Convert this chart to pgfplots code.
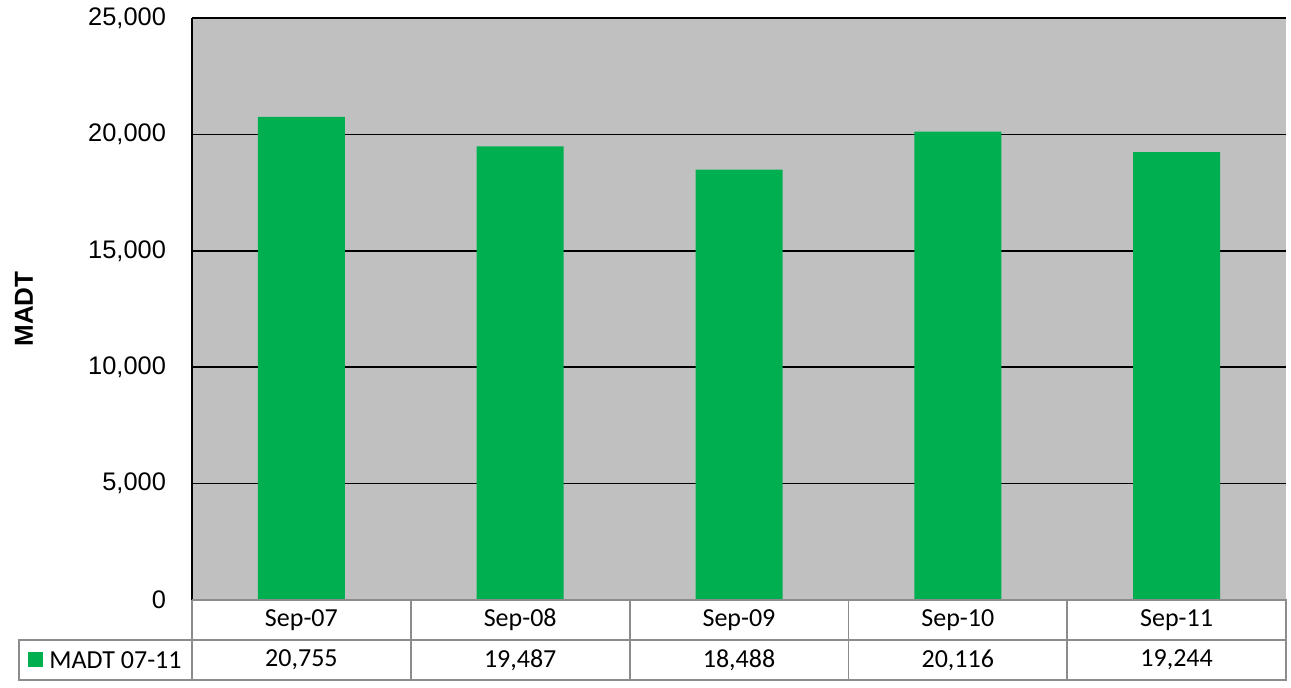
\documentclass[border=0pt]{standalone}
\usepackage{pgfplots}
\pgfplotsset{compat=1.18}
\usepackage{fontspec}
\setmainfont{Liberation Sans}
\newfontfamily\calibri{Carlito}
\definecolor{bargreen}{HTML}{00B050}
\definecolor{plotgray}{HTML}{C0C0C0}
\definecolor{tblgray}{HTML}{8C8C8C}
\pgfplotstableread{
x cat value
0 Sep-07 20755
1 Sep-08 19487
2 Sep-09 18488
3 Sep-10 20116
4 Sep-11 19244
}\datatable
\begin{document}
\begin{tikzpicture}[x=1pt,y=1pt]
\useasboundingbox (0,0) rectangle (645.5,343.5);
\begin{axis}[
  at={(96pt,43.5pt)}, anchor=south west,
  scale only axis, width=547pt, height=291pt,
  xmin=-0.5, xmax=4.5, ymin=0, ymax=25000,
  axis x line=none, axis y line*=left,
  y axis line style={black, line width=0.9pt, -},
  axis background/.style={fill=plotgray},
  ytick={0,5000,10000,15000,20000,25000},
  ymajorgrids, grid style={black, line width=0.8pt},
  major tick length=0pt,
  scaled y ticks=false,
  /pgf/number format/.cd, 1000 sep={,}, assume math mode=true,
  /pgfplots/.cd,
  yticklabel style={font=\fontsize{12.7}{14}\selectfont, xshift=-9.5pt},
  ybar, bar width=43.5pt,
]
\addplot[fill=bargreen, draw=none] table[x=x, y=value] {\datatable};
\end{axis}
% y label
\node[rotate=90, font=\bfseries\fontsize{13}{15}\selectfont] at (12,189) {MADT};
% data table
\begin{scope}[draw=tblgray, line width=0.9pt]
\draw (96,43.5) -- (643,43.5) -- (643,3.5) -- (9.5,3.5) -- (9.5,23.5) -- (643,23.5);
\foreach \k in {0,1,2,3,4} {
  \draw ({96+\k*109.4},43.5) -- ({96+\k*109.4},3.5);
}
\end{scope}
\foreach \k/\c/\v in {0/Sep-07/{20,755},1/Sep-08/{19,487},2/Sep-09/{18,488},3/Sep-10/{20,116},4/Sep-11/{19,244}} {
  \node[font=\calibri\fontsize{13}{15}\selectfont] at ({96+54.7+\k*109.4},33.5) {\c};
  \node[font=\calibri\fontsize{13}{15}\selectfont] at ({96+54.7+\k*109.4},13.5) {\v};
}
\fill[bargreen] (14,9.8) rectangle (21.5,17.3);
\node[font=\calibri\fontsize{13}{15}\selectfont, anchor=west, inner sep=0pt] at (24.5,13.5) {MADT 07-11};
\end{tikzpicture}
\end{document}
